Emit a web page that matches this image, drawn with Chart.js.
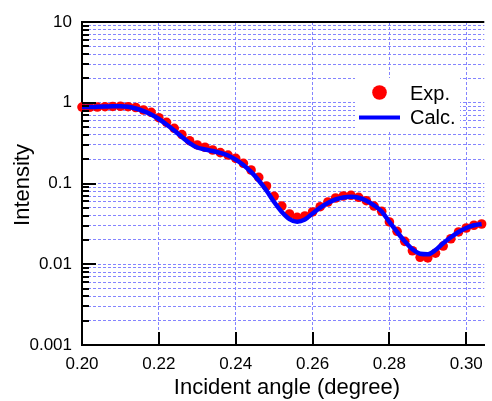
<!DOCTYPE html>
<html>
<head>
<meta charset="utf-8">
<script src="https://cdn.jsdelivr.net/npm/chart.js@4/dist/chart.umd.min.js"></script>
<style>
  html, body { margin: 0; padding: 0; background: #fff; }
  canvas { display: block; }
</style>
</head>
<body>
<canvas id="chart" width="492" height="401"></canvas>
<script>
// incident angle (degree)
const angles = [0.200, 0.202, 0.204, 0.206, 0.208, 0.210, 0.212, 0.214, 0.216, 0.218,
  0.220, 0.222, 0.224, 0.226, 0.228, 0.230, 0.232, 0.234, 0.236, 0.238,
  0.240, 0.242, 0.244, 0.246, 0.248, 0.250, 0.252, 0.254, 0.256, 0.258,
  0.260, 0.262, 0.264, 0.266, 0.268, 0.270, 0.272, 0.274, 0.276, 0.278,
  0.280, 0.282, 0.284, 0.286, 0.288, 0.290, 0.292, 0.294, 0.296, 0.298,
  0.300, 0.302, 0.304];

const expIntensity = [0.885, 0.878, 0.885, 0.894, 0.900, 0.905, 0.894, 0.873, 0.813, 0.762,
  0.653, 0.572, 0.483, 0.404, 0.339, 0.300, 0.281, 0.260, 0.241, 0.225,
  0.205, 0.178, 0.147, 0.119, 0.0931, 0.0694, 0.0526, 0.0419, 0.0381, 0.0396,
  0.0444, 0.0516, 0.0590, 0.0661, 0.0700, 0.0714, 0.0675, 0.0612, 0.0526, 0.0453,
  0.0334, 0.0256, 0.0192, 0.0147, 0.0122, 0.0120, 0.0137, 0.0168, 0.0207, 0.0251,
  0.0281, 0.0304, 0.0315];

const calcIntensity = [0.885, 0.885, 0.890, 0.897, 0.905, 0.905, 0.890, 0.849, 0.786, 0.715,
  0.629, 0.538, 0.453, 0.377, 0.317, 0.279, 0.264, 0.253, 0.239, 0.222,
  0.198, 0.1695, 0.139, 0.109, 0.0819, 0.059, 0.0444, 0.0363, 0.0336, 0.0358,
  0.0425, 0.0504, 0.0574, 0.0634, 0.0671, 0.0686, 0.0667, 0.0612, 0.0537, 0.045,
  0.0334, 0.0251, 0.0192, 0.0153, 0.0135, 0.0133, 0.0150, 0.0182, 0.0216, 0.0251,
  0.0281, 0.0304, 0.0315];

const xTicks = [0.20, 0.22, 0.24, 0.26, 0.28, 0.30];
const yDecades = [0.001, 0.01, 0.1, 1, 10];
const yMinorSteps = [2, 3, 4, 5, 6, 7, 8, 9];

const FONT = "'Liberation Sans', Arial, sans-serif";
const gridBlue = '#8484ff';

const yTicks = [];
yDecades.forEach((d, i) => {
  yTicks.push(d);
  if (i < yDecades.length - 1) yMinorSteps.forEach(m => yTicks.push(+(d * m).toPrecision(3)));
});
const isMajorY = v => yDecades.some(d => Math.abs(v - d) < d * 1e-6);

// inward ticks, top frame, axis titles and the boxed legend
const decorPlugin = {
  id: 'decor',
  afterDraw(chart) {
    const { ctx, chartArea: a, scales: { x, y } } = chart;
    ctx.save();
    ctx.strokeStyle = '#000';
    ctx.lineWidth = 2;
    ctx.beginPath();
    yTicks.forEach(v => {
      const py = Math.round(y.getPixelForValue(v));
      ctx.moveTo(a.left, py);
      ctx.lineTo(a.left + (isMajorY(v) ? 14 : 7), py);
    });
    xTicks.forEach(v => {
      const px = Math.round(x.getPixelForValue(v));
      ctx.moveTo(px, a.bottom);
      ctx.lineTo(px, a.bottom - 13);
    });
    ctx.moveTo(a.left - 1, a.top);
    ctx.lineTo(a.right, a.top);
    ctx.stroke();

    // axis titles
    ctx.fillStyle = '#000';
    ctx.font = '22px ' + FONT;
    ctx.textAlign = 'center';
    ctx.textBaseline = 'middle';
    ctx.fillText('Incident angle (degree)', 287, 388);
    ctx.save();
    ctx.translate(23, 185);
    ctx.rotate(-Math.PI / 2);
    ctx.fillText('Intensity', 0, 0);
    ctx.restore();

    // legend
    const ds = chart.data.datasets;
    ctx.fillStyle = '#fff';
    ctx.fillRect(355, 78, 105, 53);
    ctx.fillStyle = ds[1].backgroundColor;
    ctx.beginPath();
    ctx.arc(379.5, 92.5, 7.3, 0, Math.PI * 2);
    ctx.fill();
    ctx.strokeStyle = ds[0].borderColor;
    ctx.lineWidth = 4;
    ctx.beginPath();
    ctx.moveTo(359, 117.5);
    ctx.lineTo(400, 117.5);
    ctx.stroke();
    ctx.fillStyle = '#000';
    ctx.font = '20px ' + FONT;
    ctx.textAlign = 'left';
    ctx.textBaseline = 'alphabetic';
    ctx.fillText(ds[1].label, 410, 99.5);
    ctx.fillText(ds[0].label, 410, 123.5);
    ctx.restore();
  }
};

new Chart(document.getElementById('chart'), {
  type: 'scatter',
  data: {
    datasets: [
      {
        label: 'Calc.',
        type: 'line',
        data: angles.map((a, i) => ({ x: a, y: calcIntensity[i] })),
        borderColor: '#0000ff',
        borderWidth: 4.5,
        pointRadius: 0,
        cubicInterpolationMode: 'monotone',
        fill: false,
        clip: false,
        order: 0,
      },
      {
        label: 'Exp.',
        data: angles.map((a, i) => ({ x: a, y: expIntensity[i] })),
        backgroundColor: '#ff0000',
        borderWidth: 0,
        pointRadius: 4.8,
        clip: false,
        order: 1,
      },
    ],
  },
  options: {
    responsive: false,
    animation: false,
    events: [],
    layout: { padding: { top: 22, right: 0, left: 0, bottom: 0 } },
    plugins: { legend: { display: false }, tooltip: { enabled: false } },
    scales: {
      x: {
        type: 'linear',
        min: 0.2,
        max: 0.3047,
        afterFit: s => { s.height = 56; },
        afterBuildTicks: s => { s.ticks = xTicks.map(v => ({ value: v })); },
        ticks: {
          color: '#000',
          font: { family: FONT, size: 17 },
          padding: 9,
          maxRotation: 0,
          callback: v => v.toFixed(2),
        },
        grid: {
          drawTicks: false,
          color: c => (c.tick && c.tick.value > 0.2001 ? gridBlue : 'rgba(0,0,0,0)'),
          lineWidth: 1,
        },
        border: { display: true, color: '#000', width: 2, dash: [3, 2] },
      },
      y: {
        type: 'logarithmic',
        min: 0.001,
        max: 10,
        afterFit: s => { s.width = 82; },
        afterBuildTicks: s => { s.ticks = yTicks.map(v => ({ value: v, major: isMajorY(v) })); },
        ticks: {
          color: '#000',
          font: { family: FONT, size: 17 },
          padding: 10,
          autoSkip: false,
          callback: v => (isMajorY(v) ? String(v) : ''),
        },
        grid: {
          drawTicks: false,
          color: c => (c.tick && c.tick.value > 0.00101 && c.tick.value < 9.99 ? gridBlue : 'rgba(0,0,0,0)'),
          lineWidth: 1,
        },
        border: { display: true, color: '#000', width: 2, dash: [3, 2] },
      },
    },
  },
  plugins: [decorPlugin],
});
</script>
</body>
</html>
